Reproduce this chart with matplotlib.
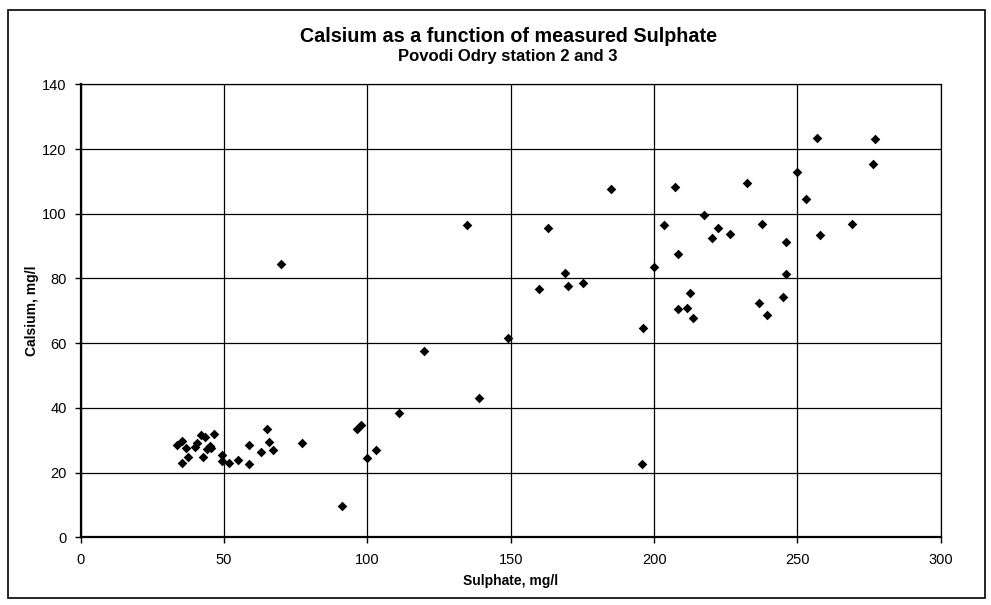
import matplotlib
matplotlib.use("Agg")
import matplotlib.pyplot as plt
from matplotlib.patches import Rectangle

sulphate = [33.5, 35.5, 36.8, 35.2, 37.5, 39.9, 40.7, 41.9, 43.5, 46.5, 42.8,
            44.0, 45.0, 45.5, 49.2, 49.2, 51.8, 55.0, 58.8, 58.8, 62.9, 65.1,
            65.8, 67.0, 69.8, 77.2,
            91.3, 96.2, 97.9, 99.7, 103.1, 111.0, 119.8, 134.7, 139.1, 149.0,
            160.0, 162.9, 169.0, 170.0, 175.2, 184.9, 195.7, 196.2, 200.1,
            203.5, 207.2, 208.4, 208.5, 211.4, 212.6, 213.7, 217.4, 220.3,
            222.4, 226.5, 232.3, 237.8, 236.7, 239.5, 245.1, 246.0, 246.0,
            249.8, 253.0, 256.7, 258.0, 269.2, 276.2, 277.0]
calsium = [28.5, 29.7, 27.5, 23.1, 24.7, 28.0, 29.2, 31.6, 31.0, 31.9, 24.7,
           27.3, 28.3, 27.5, 25.4, 23.7, 23.1, 23.9, 22.7, 28.5, 26.3, 33.4,
           29.6, 27.0, 84.5, 29.2,
           9.8, 33.5, 34.7, 24.5, 27.0, 38.5, 57.5, 96.5, 43.0, 61.7,
           76.6, 95.7, 81.8, 77.7, 78.5, 107.6, 22.8, 64.6, 83.5,
           96.6, 108.3, 87.6, 70.5, 70.8, 75.6, 67.8, 99.7, 92.6,
           95.5, 93.7, 109.5, 97.0, 72.5, 68.6, 74.2, 81.3, 91.3,
           113.0, 104.5, 123.5, 93.3, 96.9, 115.3, 123.2]

title = "Calsium as a function of measured Sulphate"
subtitle = "Povodi Odry station 2 and 3"
xlabel = "Sulphate, mg/l"
ylabel = "Calsium, mg/l"
xticks = [0, 50, 100, 150, 200, 250, 300]
yticks = [0, 20, 40, 60, 80, 100, 120, 140]

plt.rcParams['font.family'] = ['Liberation Sans', 'DejaVu Sans']

W, H = 991, 605
fig = plt.figure(figsize=(W / 100, H / 100), dpi=100)

def fx(px):
    return px / W

def fy(py):
    return 1 - py / H

# outer chart border
fig.patches.append(Rectangle((fx(8), fy(598)), fx(985) - fx(8), fy(10) - fy(598),
                             transform=fig.transFigure, fill=False,
                             edgecolor='black', linewidth=1.2))

left, right, top, bottom = 80.7, 940.8, 84.4, 537.3
ax = fig.add_axes([fx(left), fy(bottom), fx(right) - fx(left), fy(top) - fy(bottom)])

ax.scatter(sulphate, calsium, marker='D', s=24, color='black', zorder=3,
           linewidths=0)

ax.set_xlim(0, 300)
ax.set_ylim(0, 140)
ax.set_xticks(xticks)
ax.set_yticks(yticks)
ax.grid(True, color='black', linewidth=0.9)
ax.set_axisbelow(True)
for s in ['top', 'right']:
    ax.spines[s].set_linewidth(0.9)
for s in ['left', 'bottom']:
    ax.spines[s].set_linewidth(1.6)
ax.tick_params(axis='both', direction='out', length=4, width=1, labelsize=10.5)
ax.tick_params(axis='x', pad=7)
ax.tick_params(axis='y', pad=6)

ax.set_xlabel(xlabel, fontsize=10, fontweight='bold', labelpad=5)
ax.set_ylabel(ylabel, fontsize=10, fontweight='bold', labelpad=2)

fig.text(fx(508), fy(36), title, ha='center', va='center', fontsize=14.2,
         fontweight='bold')
fig.text(fx(508), fy(56), subtitle, ha='center', va='center', fontsize=12,
         fontweight='bold')

fig.savefig('out.png', dpi=100)
